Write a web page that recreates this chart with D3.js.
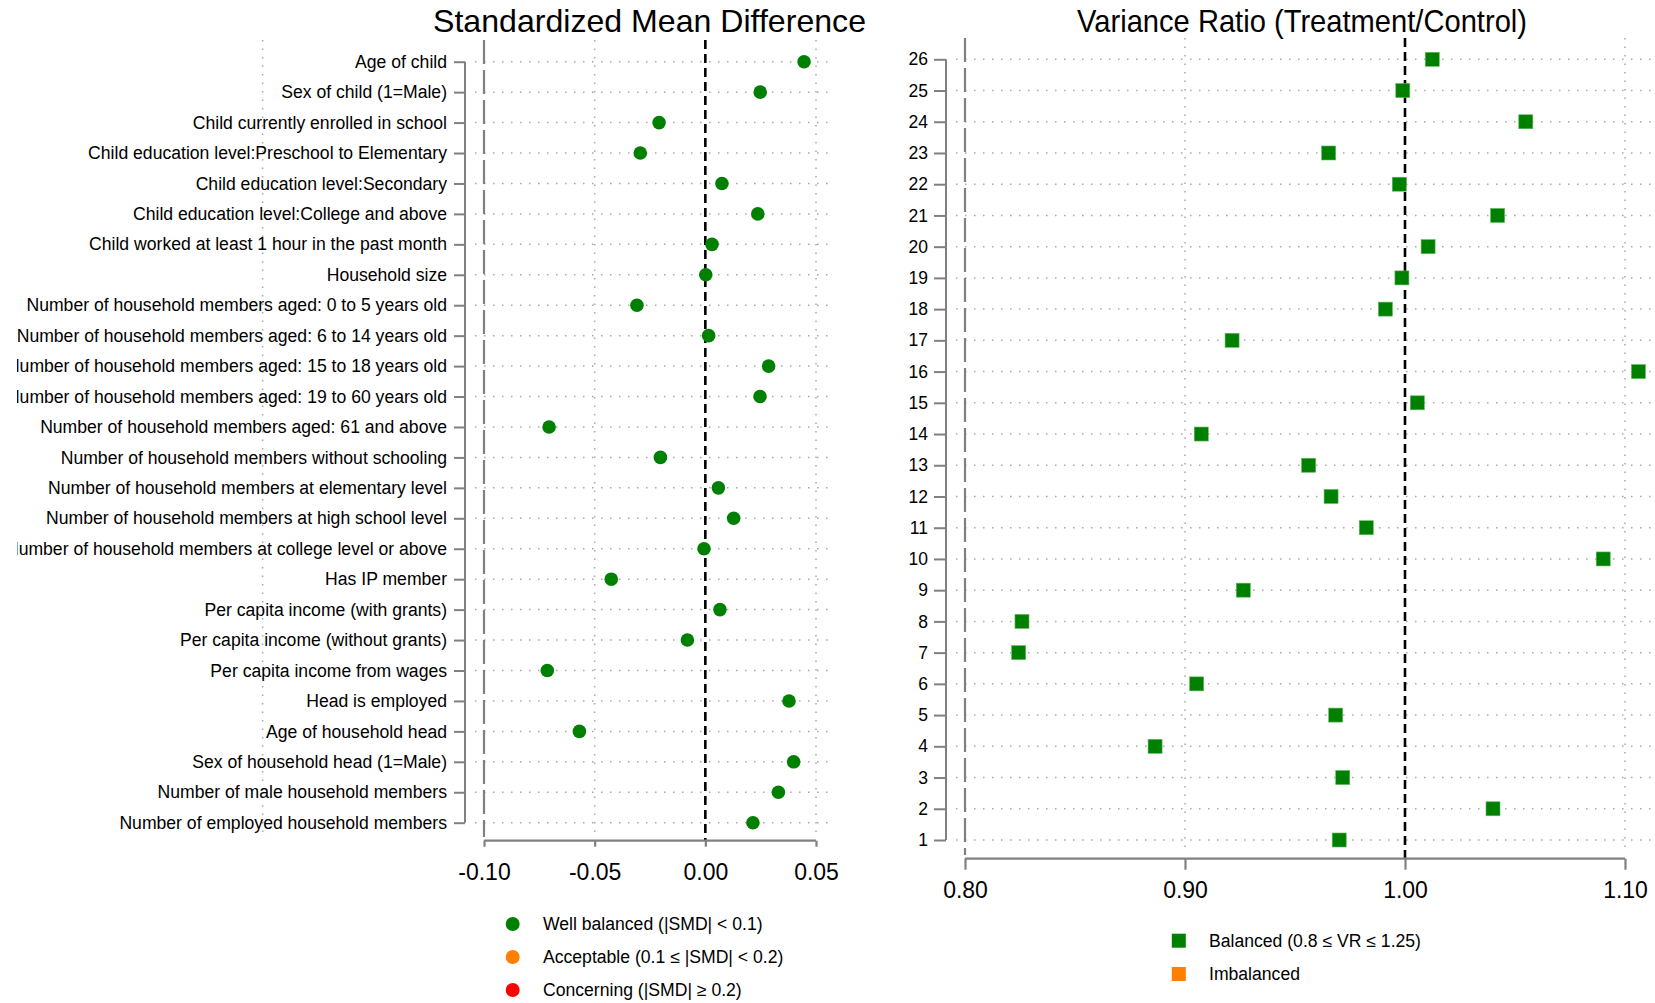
<!DOCTYPE html>
<html>
<head>
<meta charset="utf-8">
<script src="https://cdn.jsdelivr.net/npm/d3@7"></script>
<style>
  html, body { margin: 0; padding: 0; background: #fff; }
  svg { display: block; font-family: "Liberation Sans", Arial, Helvetica, sans-serif; }
</style>
</head>
<body>
<svg id="chart" width="1655" height="1003"></svg>
<script>
// ---------- DATA ----------
const covariates = [
  "Age of child",
  "Sex of child (1=Male)",
  "Child currently enrolled in school",
  "Child education level:Preschool to Elementary",
  "Child education level:Secondary",
  "Child education level:College and above",
  "Child worked at least 1 hour in the past month",
  "Household size",
  "Number of household members aged: 0 to 5 years old",
  "Number of household members aged: 6 to 14 years old",
  "Number of household members aged: 15 to 18 years old",
  "Number of household members aged: 19 to 60 years old",
  "Number of household members aged: 61 and above",
  "Number of household members without schooling",
  "Number of household members at elementary level",
  "Number of household members at high school level",
  "Number of household members at college level or above",
  "Has IP member",
  "Per capita income (with grants)",
  "Per capita income (without grants)",
  "Per capita income from wages",
  "Head is employed",
  "Age of household head",
  "Sex of household head (1=Male)",
  "Number of male household members",
  "Number of employed household members"
];
const smdValues = [
  0.0446, 0.0248, -0.0209, -0.0294, 0.0075, 0.0237, 0.0030, 0.0002,
  -0.0309, 0.0015, 0.0286, 0.0247, -0.0706, -0.0203, 0.0059, 0.0128,
  -0.0006, -0.0425, 0.0066, -0.0081, -0.0714, 0.0378, -0.0569, 0.0399,
  0.0330, 0.0215
];
// Variance ratio, indexed by variable number 1..26
const vrIndex = d3.range(1, 27);
const vrValues = [
  0.9701, 1.0400, 0.9717, 0.8864, 0.9685, 0.9053, 0.8244, 0.8259,
  0.9265, 1.0901, 0.9824, 0.9664, 0.9562, 0.9074, 1.0056, 1.1061,
  0.9214, 0.9911, 0.9986, 1.0105, 1.0421, 0.9974, 0.9653, 1.0549,
  0.9990, 1.0124
];
const smdTicks = [-0.10, -0.05, 0.00, 0.05];
const smdGrid = [-0.20, -0.05, 0.05];
const vrTicks = [0.80, 0.90, 1.00, 1.10];
const vrGrid = [0.90, 1.10];
const smdLegend = [
  {label: "Well balanced (|SMD| < 0.1)", color: "#008000"},
  {label: "Acceptable (0.1 \u2264 |SMD| < 0.2)", color: "#FF8000"},
  {label: "Concerning (|SMD| \u2265 0.2)", color: "#FF0000"}
];
const vrLegend = [
  {label: "Balanced (0.8 \u2264 VR \u2264 1.25)", color: "#008000"},
  {label: "Imbalanced", color: "#FF8000"}
];

// ---------- SETUP ----------
const svg = d3.select("#chart");
const axisGray = "#808080";
const gridGray = "#a8a8a8";
const FONT = "'Liberation Sans', Arial, sans-serif";

function smdColor(v) {
  const a = Math.abs(v);
  return a < 0.1 ? smdLegend[0].color : (a < 0.2 ? smdLegend[1].color : smdLegend[2].color);
}
function vrColor(v) {
  return (v >= 0.8 && v <= 1.25) ? vrLegend[0].color : vrLegend[1].color;
}

// ================= LEFT PANEL =================
const xL = d3.scaleLinear().domain([-0.10, 0.05]).range([484, 816]);
const yL = d3.scalePoint().domain(covariates).range([61.7, 822.7]);
const L = svg.append("g");

L.append("text").attr("x", 649.5).attr("y", 32).attr("text-anchor", "middle")
  .attr("font-size", 32).attr("textLength", 433).attr("lengthAdjust", "spacingAndGlyphs")
  .text("Standardized Mean Difference");

L.selectAll(".vg").data(smdGrid).join("line")
  .attr("x1", d => xL(d)).attr("x2", d => xL(d)).attr("y1", 40).attr("y2", 838)
  .attr("stroke", gridGray).attr("stroke-width", 1.5).attr("stroke-dasharray", "1.5,7");

L.selectAll(".hg").data(covariates).join("line")
  .attr("x1", 475).attr("x2", 830).attr("y1", d => yL(d)).attr("y2", d => yL(d))
  .attr("stroke", gridGray).attr("stroke-width", 1.5).attr("stroke-dasharray", "1.5,7.5");

L.append("line").attr("x1", xL(-0.10)).attr("x2", xL(-0.10)).attr("y1", 40).attr("y2", 837)
  .attr("stroke", axisGray).attr("stroke-width", 2.2).attr("stroke-dasharray", "24,6");
L.append("line").attr("x1", xL(0)).attr("x2", xL(0)).attr("y1", 40).attr("y2", 841)
  .attr("stroke", "#000").attr("stroke-width", 2.6).attr("stroke-dasharray", "9,5");

// labels are clipped at the left edge of the plotting device, as in the original
svg.append("clipPath").attr("id", "lblclip").append("rect")
  .attr("x", 17).attr("y", 0).attr("width", 600).attr("height", 1003);
const clipWrap = L.append("g").attr("clip-path", "url(#lblclip)");
const yAxisL = d3.axisLeft(yL).tickSize(11).tickPadding(7);
const gyL = clipWrap.append("g").attr("transform", "translate(465,0)").call(yAxisL);
gyL.select(".domain").attr("d", `M0,${yL(covariates[0])}V${yL(covariates[covariates.length-1])}`)
  .attr("stroke", axisGray).attr("stroke-width", 2);
gyL.selectAll(".tick line").attr("stroke", axisGray).attr("stroke-width", 2);
gyL.selectAll(".tick text").attr("font-size", 17.6).attr("fill", "#000").attr("font-family", FONT);

const xAxisL = d3.axisBottom(xL).tickValues(smdTicks).tickFormat(d3.format(".2f")).tickSize(6).tickPadding(17);
const gxL = L.append("g").attr("transform", "translate(0,840.7)").call(xAxisL);
gxL.select(".domain").attr("d", `M${xL(-0.10)},0H${xL(0.05)}`).attr("stroke", axisGray).attr("stroke-width", 2.2);
gxL.selectAll(".tick line").attr("stroke", axisGray).attr("stroke-width", 2.2);
gxL.selectAll(".tick text").attr("font-size", 23).attr("fill", "#000").attr("font-family", FONT)
  .text(d => d3.format(".2f")(d).replace("\u2212", "-"));

L.selectAll(".pt").data(covariates).join("circle")
  .attr("cx", (d, i) => xL(smdValues[i])).attr("cy", d => yL(d)).attr("r", 6.8)
  .attr("fill", (d, i) => smdColor(smdValues[i]));

const legL = L.append("g");
smdLegend.forEach((e, i) => {
  const cy = 924 + i * 33;
  legL.append("circle").attr("cx", 512.7).attr("cy", cy).attr("r", 7).attr("fill", e.color);
  legL.append("text").attr("x", 543).attr("y", cy).attr("dy", "0.35em")
    .attr("font-size", 17.6).attr("fill", "#000").text(e.label);
});

// ================= RIGHT PANEL =================
const xR = d3.scaleLinear().domain([0.80, 1.10]).range([965, 1625]);
const yR = d3.scaleLinear().domain([1, 26]).range([840, 59.3]);
const R = svg.append("g");

R.append("text").attr("x", 1302).attr("y", 32).attr("text-anchor", "middle")
  .attr("font-size", 32).attr("textLength", 450).attr("lengthAdjust", "spacingAndGlyphs")
  .text("Variance Ratio (Treatment/Control)");

R.selectAll(".vg").data(vrGrid).join("line")
  .attr("x1", d => xR(d)).attr("x2", d => xR(d)).attr("y1", 38).attr("y2", 852)
  .attr("stroke", gridGray).attr("stroke-width", 1.5).attr("stroke-dasharray", "1.5,7");

R.selectAll(".hg").data(vrIndex).join("line")
  .attr("x1", 956).attr("x2", 1655).attr("y1", d => yR(d)).attr("y2", d => yR(d))
  .attr("stroke", gridGray).attr("stroke-width", 1.5).attr("stroke-dasharray", "1.5,7.5");

R.append("line").attr("x1", xR(0.80)).attr("x2", xR(0.80)).attr("y1", 38).attr("y2", 855)
  .attr("stroke", axisGray).attr("stroke-width", 2.2).attr("stroke-dasharray", "24,6");
R.append("line").attr("x1", xR(1.0)).attr("x2", xR(1.0)).attr("y1", 38).attr("y2", 859)
  .attr("stroke", "#000").attr("stroke-width", 2.6).attr("stroke-dasharray", "9,5");

const yAxisR = d3.axisLeft(yR).tickValues(vrIndex).tickFormat(d3.format("d")).tickSize(12).tickPadding(6);
const gyR = R.append("g").attr("transform", "translate(946,0)").call(yAxisR);
gyR.select(".domain").attr("d", `M0,${yR(26)}V${yR(1)}`).attr("stroke", axisGray).attr("stroke-width", 2);
gyR.selectAll(".tick line").attr("stroke", axisGray).attr("stroke-width", 2);
gyR.selectAll(".tick text").attr("font-size", 17.5).attr("fill", "#000").attr("font-family", FONT);

const xAxisR = d3.axisBottom(xR).tickValues(vrTicks).tickFormat(d3.format(".2f")).tickSize(11).tickPadding(12);
const gxR = R.append("g").attr("transform", "translate(0,858.7)").call(xAxisR);
gxR.select(".domain").attr("d", `M${xR(0.80)},0H${xR(1.10)}`).attr("stroke", axisGray).attr("stroke-width", 2.2);
gxR.selectAll(".tick line").attr("stroke", axisGray).attr("stroke-width", 2.2);
gxR.selectAll(".tick text").attr("font-size", 23).attr("fill", "#000").attr("font-family", FONT);

const sq = 14;
R.selectAll(".sq").data(vrIndex).join("rect")
  .attr("x", (d, i) => xR(vrValues[i]) - sq / 2).attr("y", d => yR(d) - sq / 2)
  .attr("width", sq).attr("height", sq)
  .attr("fill", (d, i) => vrColor(vrValues[i]))
  .attr("stroke", "#5cb85c").attr("stroke-width", 0.6);

const legR = R.append("g");
vrLegend.forEach((e, i) => {
  const cy = 940.7 + i * 33.3;
  legR.append("rect").attr("x", 1178.8 - 7).attr("y", cy - 7).attr("width", 14).attr("height", 14).attr("fill", e.color);
  legR.append("text").attr("x", 1209).attr("y", cy).attr("dy", "0.35em")
    .attr("font-size", 17.6).attr("fill", "#000").text(e.label);
});
</script>
</body>
</html>
